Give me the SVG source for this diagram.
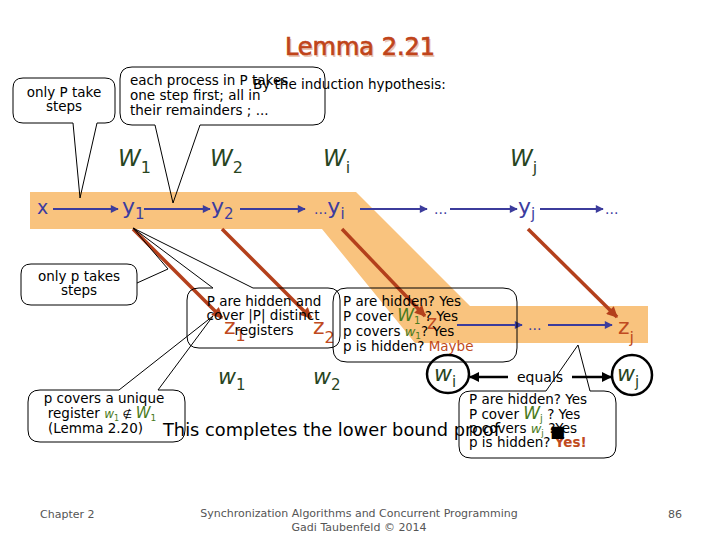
<svg xmlns="http://www.w3.org/2000/svg" width="720" height="540" viewBox="0 0 720 540">
<defs>
<style>
text{font-family:"DejaVu Sans","Liberation Sans",sans-serif}
.co{fill:none;stroke:#000;stroke-width:1}
.ct{font-size:13.5px;fill:#000}
.bl{fill:#3C3CA0}
.gw{fill:#28451F;font-style:italic}
.gl{fill:#4A7A20;font-style:italic}
.rz{fill:#C04A20}
.ba{stroke:#3C3C9C;stroke-width:2;fill:none;marker-end:url(#ab)}
.ra{stroke:#B4401C;stroke-width:3.5;fill:none}
.ft{font-size:11px;fill:#555}
</style>
<marker id="ab" viewBox="0 0 10 10" refX="9" refY="5" markerWidth="9" markerHeight="8" markerUnits="userSpaceOnUse" orient="auto"><path d="M0,0L10,5L0,10z" fill="#3C3C9C"/></marker>
<marker id="ar" viewBox="0 0 10 10" refX="9" refY="5" markerWidth="12" markerHeight="11" markerUnits="userSpaceOnUse" orient="auto"><path d="M0,0L10,5L0,10z" fill="#B4401C"/></marker>
<marker id="ak" viewBox="0 0 10 10" refX="9" refY="5" markerWidth="11" markerHeight="10" markerUnits="userSpaceOnUse" orient="auto"><path d="M0,0L10,5L0,10z" fill="#000"/></marker>
</defs>
<rect width="720" height="540" fill="#fff"/>

<g id="band">
<polygon points="30,192 356,192 470,306 648,306 648,343 415,343 322,229 30,229" fill="#F9C37E"/>
</g>

<g id="title">
<text x="361.5" y="56.5" font-size="24" fill="#EAC7B5" text-anchor="middle">Lemma 2.21</text>
<text x="360" y="55" font-size="24" fill="#C0441A" stroke="#C0441A" stroke-width="0.7" text-anchor="middle">Lemma 2.21</text>
</g>

<g id="w-labels">
<text x="118" y="166" font-size="23" class="gw">W<tspan font-size="16" dy="7" font-style="normal">1</tspan></text>
<text x="210" y="166" font-size="23" class="gw">W<tspan font-size="16" dy="7" font-style="normal">2</tspan></text>
<text x="323" y="166" font-size="23" class="gw">W<tspan font-size="16" dy="7" font-style="normal">i</tspan></text>
<text x="510" y="166" font-size="23" class="gw">W<tspan font-size="16" dy="7" font-style="normal">j</tspan></text>
</g>

<g id="connectors">
<line class="ba" x1="53" y1="209" x2="118" y2="209"/>
<line class="ba" x1="144" y1="209" x2="210" y2="209"/>
<line class="ba" x1="240" y1="209" x2="305" y2="209"/>
<line class="ba" x1="360" y1="209" x2="427" y2="209"/>
<line class="ba" x1="450" y1="209" x2="517" y2="209"/>
<line class="ba" x1="540" y1="209" x2="603" y2="209"/>
<line class="ba" x1="457" y1="325" x2="522" y2="325"/>
<line class="ba" x1="548" y1="325" x2="612" y2="325"/>
<line class="ra" x1="133" y1="229" x2="222" y2="318" marker-end="url(#ar)"/>
<line class="ra" x1="222" y1="229" x2="311" y2="318" marker-end="url(#ar)"/>
<line class="ra" x1="342" y1="229" x2="425" y2="316" marker-end="url(#ar)"/>
<line class="ra" x1="528" y1="229" x2="617" y2="317" marker-end="url(#ar)"/>
<line x1="508" y1="377" x2="470" y2="377" stroke="#000" stroke-width="2.5" marker-end="url(#ak)"/>
<line x1="572" y1="377" x2="611" y2="377" stroke="#000" stroke-width="2.5" marker-end="url(#ak)"/>
</g>

<g id="x-node"><text x="37" y="214" font-size="19" class="bl">x</text></g>
<g id="y1-node"><text x="122" y="214" font-size="22" class="bl">y<tspan font-size="15" dy="5">1</tspan></text></g>
<g id="y2-node"><text x="211" y="214" font-size="22" class="bl">y<tspan font-size="15" dy="5">2</tspan></text></g>
<g id="yi-node"><text x="314" y="214" font-size="22" class="bl"><tspan font-size="14">...</tspan>y<tspan font-size="15" dy="5">i</tspan></text></g>
<g id="dots1"><text x="434" y="214" font-size="14" class="bl">...</text></g>
<g id="yj-node"><text x="518" y="214" font-size="22" class="bl">y<tspan font-size="15" dy="5">j</tspan></text></g>
<g id="dots2"><text x="605" y="214" font-size="14" class="bl">...</text></g>

<g id="z1-node"><text x="224" y="334" font-size="22" class="rz">z<tspan font-size="16" dy="7">1</tspan></text></g>
<g id="z2-node"><text x="313" y="334" font-size="22" class="rz">z<tspan font-size="16" dy="9">2</tspan></text></g>
<g id="zi-node"><text x="427" y="329" font-size="19" class="rz">z</text></g>
<g id="dots3"><text x="528" y="330" font-size="14" class="bl">...</text></g>
<g id="zj-node"><text x="618" y="334" font-size="22" class="rz">z<tspan font-size="16" dy="9">j</tspan></text></g>

<g id="w1-node"><text x="218" y="384" font-size="22" class="gw">w<tspan font-size="15" dy="6" font-style="normal">1</tspan></text></g>
<g id="w2-node"><text x="313" y="384" font-size="22" class="gw">w<tspan font-size="15" dy="6" font-style="normal">2</tspan></text></g>
<g id="wi-node">
<ellipse cx="448" cy="374" rx="21" ry="19" fill="none" stroke="#000" stroke-width="2.5"/>
<text x="434" y="381" font-size="22" class="gw">w<tspan font-size="15" dy="6" font-style="normal">i</tspan></text>
</g>
<g id="equals-label"><text x="517" y="382" font-size="14">equals</text></g>
<g id="wj-node">
<ellipse cx="632" cy="375" rx="20" ry="20" fill="none" stroke="#000" stroke-width="2.5"/>
<text x="617" y="381" font-size="22" class="gw">w<tspan font-size="15" dy="6" font-style="normal">j</tspan></text>
</g>

<g id="callout-onlyP">
<path class="co" d="M23,78 H105 Q115,78 115,88 V113 Q115,123 105,123 H97 L80,198 L73,123 H23 Q13,123 13,113 V88 Q13,78 23,78 Z"/>
<text class="ct" x="64" y="97" text-anchor="middle" font-size="14">only P take</text>
<text class="ct" x="64" y="111" text-anchor="middle" font-size="14">steps</text>
</g>

<g id="callout-each">
<path class="co" d="M132,67 H313 Q325,67 325,79 V113 Q325,125 313,125 H200 L173,203 L155,125 H132 Q120,125 120,113 V79 Q120,67 132,67 Z"/>
<text class="ct" x="130" y="85" font-size="14">each process in P takes</text>
<text class="ct" x="130" y="100" font-size="14">one step first; all in</text>
<text class="ct" x="130" y="115" font-size="14">their remainders ; ...</text>
<text class="ct" x="253" y="89" font-size="14">By the induction hypothesis:</text>
</g>

<g id="callout-onlyp">
<path class="co" d="M31,264 H127 Q137,264 137,274 V295 Q137,305 127,305 H31 Q21,305 21,295 V274 Q21,264 31,264 Z"/>
<path class="co" d="M137,283 L168,269 L133,228"/>
<text class="ct" x="79" y="281" text-anchor="middle" font-size="14">only p takes</text>
<text class="ct" x="79" y="295" text-anchor="middle" font-size="14">steps</text>
</g>

<g id="callout-hidden-distinct">
<path class="co" d="M199,288 H213 L133,228 L253,288 H328 Q340,288 340,300 V336 Q340,348 328,348 H199 Q187,348 187,336 V300 Q187,288 199,288 Z"/>
<text class="ct" x="264" y="306" text-anchor="middle">P are hidden and</text>
<text class="ct" x="263" y="320" text-anchor="middle">cover |P| distinct</text>
<text class="ct" x="264" y="335" text-anchor="middle">registers</text>
</g>

<g id="callout-maybe">
<path class="co" d="M347,288 H503 Q517,288 517,302 V348 Q517,362 503,362 H347 Q333,362 333,348 V302 Q333,288 347,288 Z"/>
<text class="ct" x="343" y="306">P are hidden? Yes</text>
<text class="ct" x="343" y="321">P cover <tspan class="gl" font-size="17">W</tspan><tspan font-size="10" fill="#4A7A20" dy="3">1</tspan><tspan dy="-3"> ? Yes</tspan></text>
<text class="ct" x="343" y="336">p covers <tspan class="gl" font-size="13">w</tspan><tspan font-size="9" fill="#4A7A20" dy="3">1</tspan><tspan dy="-3">? Yes</tspan></text>
<text class="ct" x="343" y="351">p is hidden? <tspan class="rz">Maybe</tspan></text>
</g>

<g id="callout-unique">
<path class="co" d="M40,390 H119 L213,316 L158,390 H173 Q185,390 185,402 V430 Q185,442 173,442 H40 Q28,442 28,430 V402 Q28,390 40,390 Z"/>
<text class="ct" x="104" y="403" text-anchor="middle">p covers a unique</text>
<text class="ct" x="102" y="418" text-anchor="middle">register <tspan class="gl" font-size="12">w</tspan><tspan font-size="8" fill="#4A7A20" dy="3">1</tspan><tspan dy="-3" font-size="11"> ∉ </tspan><tspan class="gl" font-size="15">W</tspan><tspan font-size="9" fill="#4A7A20" dy="3">1</tspan></text>
<text class="ct" x="48" y="433">(Lemma 2.20)</text>
</g>

<g id="callout-yes">
<path class="co" d="M471,391 H546 L578,345 L590,391 H604 Q616,391 616,403 V446 Q616,458 604,458 H471 Q459,458 459,446 V403 Q459,391 471,391 Z"/>
<text class="ct" x="469" y="404">P are hidden? Yes</text>
<text class="ct" x="469" y="419">P cover <tspan class="gl" font-size="17">W</tspan><tspan font-size="10" fill="#4A7A20" dy="3">j</tspan><tspan dy="-3"> ? Yes</tspan></text>
<text class="ct" x="469" y="433">p covers <tspan class="gl" font-size="13">w</tspan><tspan font-size="9" fill="#4A7A20" dy="3">j</tspan><tspan dy="-3"> ?Yes</tspan></text>
<text class="ct" x="469" y="447">p is hidden? <tspan class="rz" font-weight="bold">Yes!</tspan></text>
</g>

<g id="conclusion">
<text x="163" y="436" font-size="18" fill="#000" textLength="337" lengthAdjust="spacingAndGlyphs">This completes the lower bound proof</text>
<text x="550" y="437" font-size="16" fill="#000">■</text>
</g>

<g id="footer">
<text class="ft" x="40" y="518">Chapter 2</text>
<text class="ft" x="359" y="517" text-anchor="middle">Synchronization Algorithms and Concurrent Programming</text>
<text class="ft" x="359" y="531" text-anchor="middle">Gadi Taubenfeld © 2014</text>
<text class="ft" x="668" y="518">86</text>
</g>
</svg>
